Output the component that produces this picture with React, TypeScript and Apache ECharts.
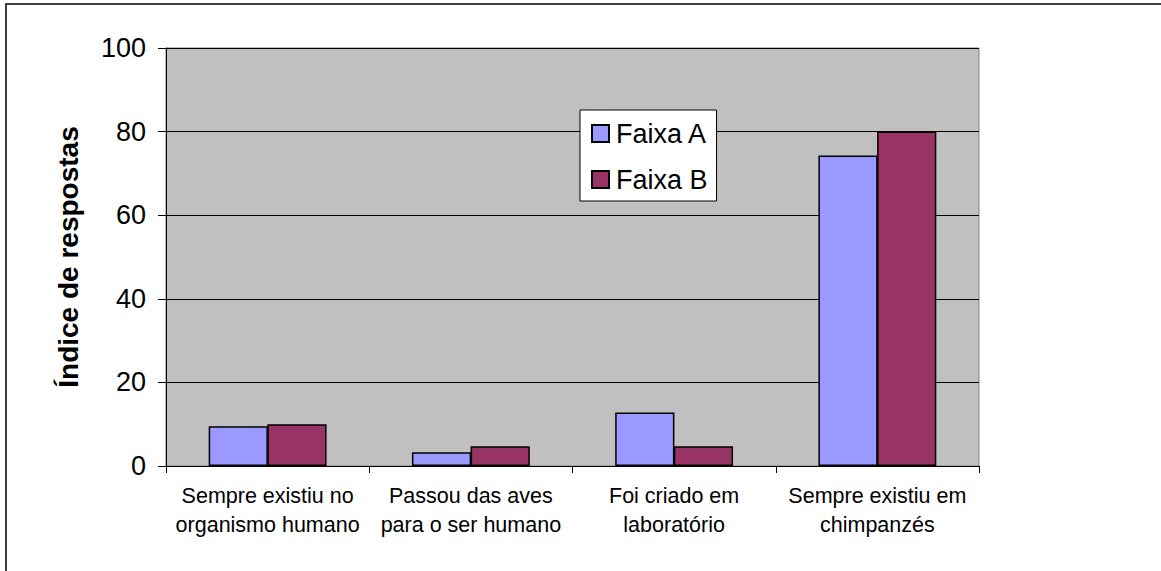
import React, { useEffect, useRef } from "react";
import * as echarts from "echarts";

const categories = [
  "Sempre existiu no\norganismo humano",
  "Passou das aves\npara o ser humano",
  "Foi criado em\nlaboratório",
  "Sempre existiu em\nchimpanzés",
];
const seriesNames = ["Faixa A", "Faixa B"];
const faixaA = [9.5, 3.3, 12.8, 74.3];
const faixaB = [10, 4.7, 4.7, 80];
const yTicks = { min: 0, max: 100, interval: 20 };
const yName = "Índice de respostas";

const FONT = "'Liberation Sans', Arial, sans-serif";

export default function App() {
  const ref = useRef<HTMLDivElement>(null);
  useEffect(() => {
    if (!ref.current) return;
    const chart = echarts.init(ref.current, null, { renderer: "svg" });
    chart.setOption({
      animation: false,
      backgroundColor: "#ffffff",
      textStyle: { fontFamily: FONT, color: "#000" },
      graphic: [
        {
          type: "rect",
          shape: { x: 6, y: 4, width: 1400, height: 800 },
          style: { fill: "none", stroke: "#000", lineWidth: 1.5 },
          silent: true,
          z: 100,
        },
      ],
      grid: {
        left: 166,
        top: 48,
        right: 182,
        bottom: 105,
        show: true,
        backgroundColor: "#C0C0C0",
        borderColor: "#808080",
        borderWidth: 1,
      },
      legend: {
        data: seriesNames,
        orient: "vertical",
        left: 580,
        top: 110,
        itemWidth: 17,
        itemHeight: 17,
        itemGap: 19,
        padding: [10, 9, 8, 11],
        backgroundColor: "#fff",
        borderColor: "#000",
        borderWidth: 1,
        icon: "rect",
        textStyle: { fontSize: 27, fontFamily: FONT, color: "#000", padding: [0, 0, 0, 2] },
      },
      xAxis: {
        type: "category",
        data: categories,
        axisLine: { show: true, lineStyle: { color: "#000", width: 1 } },
        axisTick: { show: true, alignWithLabel: false, length: 7, lineStyle: { color: "#000" } },
        axisLabel: {
          interval: 0,
          fontSize: 21.5,
          lineHeight: 29,
          margin: 15,
          color: "#000",
          fontFamily: FONT,
        },
        splitLine: { show: false },
      },
      yAxis: {
        type: "value",
        min: yTicks.min,
        max: yTicks.max,
        interval: yTicks.interval,
        name: yName,
        nameLocation: "middle",
        nameGap: 84,
        nameTextStyle: { fontSize: 28, fontWeight: "bold", color: "#000", fontFamily: FONT },
        axisLine: { show: true, lineStyle: { color: "#000", width: 1 } },
        axisTick: { show: true, inside: false, length: 8, lineStyle: { color: "#000" } },
        axisLabel: { fontSize: 27, margin: 20, color: "#000", fontFamily: FONT },
        splitLine: { show: true, lineStyle: { color: "#000", width: 1 } },
      },
      series: [
        {
          name: seriesNames[0],
          type: "bar",
          data: faixaA,
          barGap: "-1%",
          barCategoryGap: "42%",
          itemStyle: { color: "#9999FF", borderColor: "#000", borderWidth: 1.5 },
        },
        {
          name: seriesNames[1],
          type: "bar",
          data: faixaB,
          barGap: "-1%",
          barCategoryGap: "42%",
          itemStyle: { color: "#993366", borderColor: "#000", borderWidth: 1.5 },
        },
      ],
    });
    return () => chart.dispose();
  }, []);
  return (
    <div
      ref={ref}
      style={{ position: "fixed", left: 0, top: 0, width: 1161, height: 571 }}
    />
  );
}
